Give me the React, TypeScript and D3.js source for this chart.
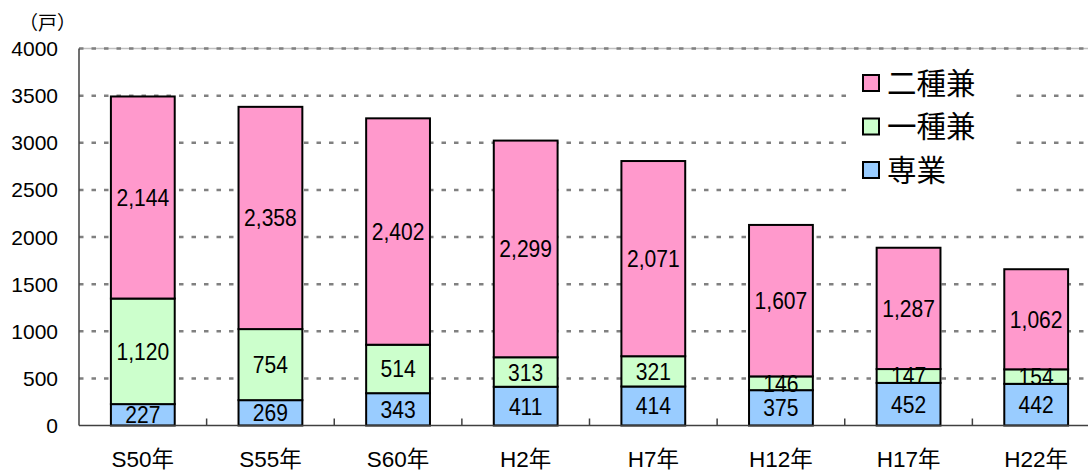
import { useEffect, useRef } from "react";
import * as d3 from "d3";

// 農家数の推移（専業・兼業別）, 単位: 戸
const years = ["S50年", "S55年", "S60年", "H2年", "H7年", "H12年", "H17年", "H22年"];
const senka = [227, 269, 343, 411, 414, 375, 452, 442];
const ichiShu = [1120, 754, 514, 313, 321, 146, 147, 154];
const niShu = [2144, 2358, 2402, 2299, 2071, 1607, 1287, 1062];
const yTicks = [0, 500, 1000, 1500, 2000, 2500, 3000, 3500, 4000];

const seriesKeys = ["専業", "一種兼", "二種兼"];
const colors: Record<string, string> = {
  専業: "#99ccff",
  一種兼: "#ccffcc",
  二種兼: "#ff99cc",
};

const W = 1088;
const H = 471;
const M = { top: 48.5, right: -12, bottom: 45.5, left: 79 };

const NUM_FONT = '"Liberation Sans", Arial, sans-serif';
const AX_FONT = '"Liberation Sans", Arial, "Noto Sans CJK JP", sans-serif';
const JP_FONT = '"Noto Sans CJK JP", sans-serif';

export default function App() {
  const svgRef = useRef<SVGSVGElement>(null);

  useEffect(() => {
    const svg = d3.select(svgRef.current!);
    svg.selectAll("*").remove();

    const innerR = W - M.right;
    const innerB = H - M.bottom;

    const x = d3
      .scaleBand<string>()
      .domain(years)
      .range([M.left, innerR])
      .paddingInner(0.5)
      .paddingOuter(0.25);
    const y = d3.scaleLinear().domain([0, 4000]).range([innerB, M.top]);

    const rows = years.map((yr, i) => ({
      year: yr,
      専業: senka[i],
      一種兼: ichiShu[i],
      二種兼: niShu[i],
    }));
    const stacked = d3.stack<any>().keys(seriesKeys)(rows);

    // top border (light) + gridlines
    svg
      .append("line")
      .attr("x1", M.left)
      .attr("x2", W)
      .attr("y1", y(4000))
      .attr("y2", y(4000))
      .attr("stroke", "#c0c0c0")
      .attr("stroke-width", 1.5);

    svg
      .append("g")
      .selectAll("line")
      .data(yTicks.filter((t) => t > 0))
      .join("line")
      .attr("x1", M.left)
      .attr("x2", W)
      .attr("y1", (d) => y(d))
      .attr("y2", (d) => y(d))
      .attr("stroke", "#808080")
      .attr("stroke-width", 2.5)
      .attr("stroke-dasharray", "4.5,8");

    // y tick labels
    svg
      .append("g")
      .selectAll("text")
      .data(yTicks)
      .join("text")
      .attr("x", 58)
      .attr("y", (d) => y(d) + 7.5)
      .attr("text-anchor", "end")
      .attr("font-family", AX_FONT)
      .attr("font-size", 21)
      .attr("fill", "#000")
      .text((d) => String(d));

    svg
      .append("text")
      .attr("x", 19)
      .attr("y", 30)
      .attr("font-family", JP_FONT)
      .attr("font-size", 19)
      .text("（戸）");

    // bars
    const layers = svg.append("g");
    stacked.forEach((layer) => {
      layers
        .append("g")
        .selectAll("rect")
        .data(layer)
        .join("rect")
        .attr("x", (d: any) => x(d.data.year)!)
        .attr("width", x.bandwidth())
        .attr("y", (d) => y(d[1]))
        .attr("height", (d) => y(d[0]) - y(d[1]))
        .attr("fill", colors[layer.key])
        .attr("stroke", "#000")
        .attr("stroke-width", 2);
    });

    // value labels (narrow, tall digits)
    const fmt = d3.format(",");
    stacked.forEach((layer) => {
      svg
        .append("g")
        .selectAll("text")
        .data(layer)
        .join("text")
        .attr(
          "transform",
          (d: any) =>
            `translate(${x(d.data.year)! + x.bandwidth() / 2},${y((d[0] + d[1]) / 2) + 8.5}) scale(0.86,1)`
        )
        .attr("text-anchor", "middle")
        .attr("font-family", NUM_FONT)
        .attr("font-size", 24.5)
        .attr("fill", "#000")
        .text((d) => fmt(d[1] - d[0]));
    });

    // axes lines
    svg
      .append("line")
      .attr("x1", M.left)
      .attr("x2", M.left)
      .attr("y1", y(4000))
      .attr("y2", innerB)
      .attr("stroke", "#404040")
      .attr("stroke-width", 1.5);

    svg
      .append("line")
      .attr("x1", M.left)
      .attr("x2", W)
      .attr("y1", innerB)
      .attr("y2", innerB)
      .attr("stroke", "#404040")
      .attr("stroke-width", 1.5);

    const step = x.step();
    svg
      .append("g")
      .selectAll("line")
      .data(years.slice(1))
      .join("line")
      .attr("x1", (d) => x(d)! - (step - x.bandwidth()) / 2)
      .attr("x2", (d) => x(d)! - (step - x.bandwidth()) / 2)
      .attr("y1", innerB - 7)
      .attr("y2", innerB)
      .attr("stroke", "#404040")
      .attr("stroke-width", 1.5);

    // category labels
    svg
      .append("g")
      .selectAll("text")
      .data(years)
      .join("text")
      .attr("x", (d) => x(d)! + x.bandwidth() / 2)
      .attr("y", 467)
      .attr("text-anchor", "middle")
      .attr("font-family", AX_FONT)
      .attr("font-size", 22.5)
      .attr("fill", "#000")
      .text((d) => d);

    // legend
    const lg = svg.append("g");
    lg.append("rect")
      .attr("x", 852)
      .attr("y", 58)
      .attr("width", 158)
      .attr("height", 146)
      .attr("fill", "#fff");
    const legendOrder = ["二種兼", "一種兼", "専業"];
    const item = lg
      .selectAll("g")
      .data(legendOrder)
      .join("g")
      .attr("transform", (_, i) => `translate(863,${83 + i * 43.5})`);
    item
      .append("rect")
      .attr("x", 0)
      .attr("y", -8)
      .attr("width", 16)
      .attr("height", 16)
      .attr("fill", (d) => colors[d])
      .attr("stroke", "#000")
      .attr("stroke-width", 2);
    item
      .append("text")
      .attr("x", 24)
      .attr("y", 10.5)
      .attr("font-family", JP_FONT)
      .attr("font-size", 29.5)
      .attr("fill", "#000")
      .text((d) => d);
  }, []);

  return (
    <svg
      ref={svgRef}
      width={W}
      height={H}
      style={{ position: "absolute", left: 0, top: 0, background: "#fff" }}
    />
  );
}
